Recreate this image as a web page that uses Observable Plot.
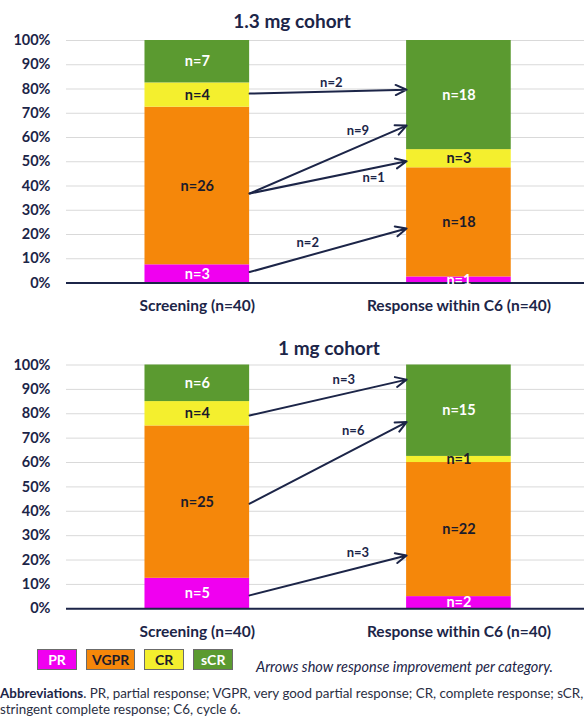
<!DOCTYPE html>
<html>
<head>
<meta charset="utf-8">
<script src="https://cdn.jsdelivr.net/npm/d3@7"></script>
<script src="https://cdn.jsdelivr.net/npm/@observablehq/plot@0.6"></script>
<style>
  html, body { margin: 0; padding: 0; background: #fff; }
  #page { position: relative; width: 584px; height: 720px; overflow: hidden; font-family: Lato, "Open Sans", sans-serif; color: #1c2548; }
  .title { position: absolute; transform: translateX(-50%); font-weight: bold; font-size: 19px; white-space: nowrap; line-height: 1; }
  .panel { position: absolute; left: 0; }
  #legend { position: absolute; left: 37px; top: 649px; display: flex; gap: 9px; }
  #legend .key { height: 19px; line-height: 19px; min-width: 28px; padding: 0 5px; border: 1px solid #6b6b6b; font-weight: bold; font-size: 14px; text-align: center; }
  #note { position: absolute; left: 256px; top: 658px; font-style: italic; font-size: 14.5px; white-space: nowrap; color: #1c2548; }
  #abbr { position: absolute; left: 0; top: 686px; width: 584px; font-size: 13.4px; line-height: 15.5px; color: #2b2f44; white-space: nowrap; overflow: hidden; }
  #abbr b { color: #1c2548; }
</style>
</head>
<body>
<div id="page"></div>
<script>
// Response categories, colours and time points
const categories = ["PR", "VGPR", "CR", "sCR"];
const colors = ["#f000f0", "#f5870a", "#f4ef2e", "#5b9a30"];
const lightText = ["PR", "sCR"];
const timepoints = ["Screening (n=40)", "Response within C6 (n=40)"];
const cohorts = ["1.3 mg cohort", "1 mg cohort"];

// Patient counts per category (PR, VGPR, CR, sCR)
const screening13 = [3, 26, 4, 7];
const response13 = [1, 18, 3, 18];
const screening1 = [5, 25, 4, 6];
const response1 = [2, 22, 1, 15];

// Improvement arrows: start and end heights (% of patients) and counts
const arrowFrom13 = [78.1, 36.9, 36.9, 4.5];
const arrowTo13 = [79.7, 64.9, 50.2, 22.5];
const arrowN13 = [2, 9, 1, 2];
const arrowFrom1 = [79.3, 43.1, 5.5];
const arrowTo1 = [94.0, 76.6, 21.9];
const arrowN1 = [3, 6, 3];

const navy = "#1c2548";
const HALF = 0.2; // half bar width in slot units

// label placement along each arrow (fraction of length) and vertical offset in px
const labelPlace13 = [{t: 0.52, dy: -9}, {t: 0.69, dy: -16}, {t: 0.79, dy: 10}, {t: 0.37, dy: -13}];
const labelPlace1 = [{t: 0.6, dy: -14}, {t: 0.66, dy: -19}, {t: 0.69, dy: -15}];

function stackRows(series) {
  const rows = [];
  series.forEach((vals, i) => {
    const total = d3.sum(vals);
    let cum = 0;
    vals.forEach((v, j) => {
      const y1 = cum / total * 100;
      cum += v;
      rows.push({slot: i + 1, category: categories[j], n: v, y1, y2: cum / total * 100});
    });
  });
  return rows;
}

function panel({screening, response, from, to, ns, place, height, marginTop, marginBottom}) {
  const rows = stackRows([screening, response]);
  const arrows = from.map((f, i) => ({from: f, to: to[i], n: ns[i], ...place[i]}));
  const x1 = 1 + HALF, x2 = 2 - HALF;
  return Plot.plot({
    width: 584,
    height,
    marginLeft: 66,
    marginRight: 0,
    marginTop,
    marginBottom,
    style: {fontFamily: "Lato, 'Open Sans', sans-serif", fontSize: "14px", fontWeight: "bold", color: navy, background: "transparent", overflow: "visible"},
    x: {domain: [0.5, 2.48]},
    y: {domain: [0, 100]},
    color: {domain: categories, range: colors},
    marks: [
      Plot.gridY({ticks: d3.range(0, 101, 10), stroke: "#d9d9d9", strokeOpacity: 1}),
      Plot.rectY(rows, {x1: d => d.slot - HALF, x2: d => d.slot + HALF, y1: "y1", y2: "y2", fill: "category"}),
      Plot.ruleY([0], {stroke: navy, strokeWidth: 2}),
      Plot.text(rows, {
        x: "slot", y: d => (d.y1 + d.y2) / 2, text: d => `n=${d.n}`,
        fill: d => lightText.includes(d.category) ? "#ffffff" : "#1b1b2b",
        fontSize: 14.5, fontWeight: "bold"
      }),
      Plot.arrow(arrows, {
        x1: () => x1, x2: () => x2, y1: "from", y2: "to",
        stroke: navy, strokeWidth: 2, headLength: 9, headAngle: 50
      }),
      ...arrows.map(a => Plot.text([a], {
        x: d => x1 + d.t * (x2 - x1), y: d => d.from + d.t * (d.to - d.from),
        text: d => `n=${d.n}`, dy: a.dy, fill: navy, fontSize: 13, fontWeight: "bold"
      })),
      Plot.axisY({ticks: d3.range(0, 101, 10), tickFormat: d => `${d}%`, label: null, tickSize: 0, tickPadding: 16, fill: navy, fontSize: 14.5, fontWeight: "bold"}),
      Plot.axisX({ticks: [1, 2], tickFormat: d => timepoints[d - 1], label: null, tickSize: 0, tickPadding: 17, fill: navy, fontSize: 15.5, fontWeight: "bold"})
    ]
  });
}

const page = document.getElementById("page");

function addTitle(text, cx, top) {
  const t = document.createElement("div");
  t.className = "title";
  t.textContent = text;
  t.style.left = cx + "px";
  t.style.top = top + "px";
  page.appendChild(t);
}

function addPanel(svg, top) {
  const wrap = document.createElement("div");
  wrap.className = "panel";
  wrap.style.top = top + "px";
  wrap.appendChild(svg);
  page.appendChild(wrap);
}

addTitle(cohorts[0], 292, 11);
addPanel(panel({
  screening: screening13, response: response13,
  from: arrowFrom13, to: arrowTo13, ns: arrowN13, place: labelPlace13,
  height: 288, marginTop: 8, marginBottom: 37.5
}), 32);

addTitle(cohorts[1], 329, 338);
addPanel(panel({
  screening: screening1, response: response1,
  from: arrowFrom1, to: arrowTo1, ns: arrowN1, place: labelPlace1,
  height: 288, marginTop: 7.5, marginBottom: 36.7
}), 357);

// Legend with the category names inside coloured keys
const legend = document.createElement("div");
legend.id = "legend";
categories.forEach((c, i) => {
  const k = document.createElement("div");
  k.className = "key";
  k.textContent = c;
  k.style.background = colors[i];
  k.style.color = lightText.includes(c) ? "#ffffff" : "#1b1b2b";
  legend.appendChild(k);
});
page.appendChild(legend);

const note = document.createElement("div");
note.id = "note";
note.textContent = "Arrows show response improvement per category.";
page.appendChild(note);

const abbr = document.createElement("div");
abbr.id = "abbr";
abbr.innerHTML = "<b>Abbreviations</b>. PR, partial response; VGPR, very good partial response; CR, complete response; sCR,<br>stringent complete response; C6, cycle 6.";
page.appendChild(abbr);
</script>
</body>
</html>
